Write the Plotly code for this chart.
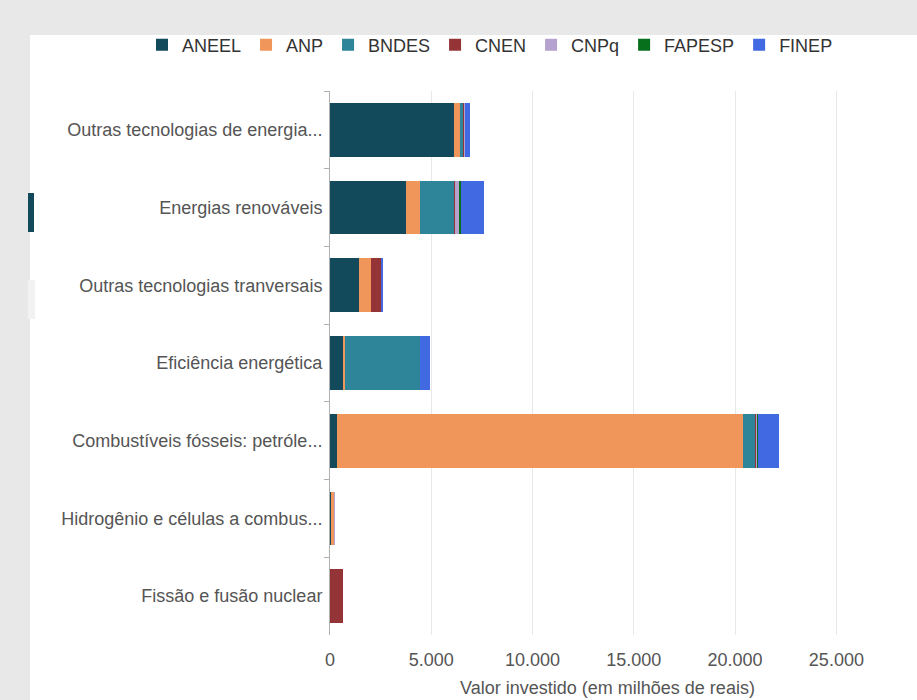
import plotly.graph_objects as go

categories = [
    "Outras tecnologias de energia...",
    "Energias renováveis",
    "Outras tecnologias tranversais",
    "Eficiência energética",
    "Combustíveis fósseis: petróle...",
    "Hidrogênio e células a combus...",
    "Fissão e fusão nuclear",
]
series_names = ["ANEEL", "ANP", "BNDES", "CNEN", "CNPq", "FAPESP", "FINEP"]
aneel = [6100, 3760, 1440, 620, 350, 40, 0]
anp = [330, 700, 590, 100, 20050, 180, 0]
bndes = [180, 1680, 0, 3700, 600, 0, 0]
cnen = [20, 40, 500, 0, 60, 0, 640]
cnpq = [40, 200, 20, 0, 40, 10, 0]
fapesp = [10, 100, 0, 0, 10, 0, 0]
finep = [250, 1100, 30, 520, 1040, 0, 0]
colors = ["#124a5c", "#f0965a", "#2e8499", "#943436", "#b6a2cf", "#07701c", "#4169e1"]
xticks = [0, 5000, 10000, 15000, 20000, 25000]

values = [aneel, anp, bndes, cnen, cnpq, fapesp, finep]

fig = go.Figure()
for name, vals, col in zip(series_names, values, colors):
    fig.add_trace(go.Bar(
        y=categories, x=vals, name=name, orientation="h",
        marker=dict(color=col, line=dict(width=0)),
    ))

L, R, T, B = 330, 32, 91, 65
W, H = 917, 700
pw, ph = W - L - R, H - T - B

def px(x):
    return (x - L) / pw

def py(y):
    return (H - B - y) / ph

FS = 18
fig.update_layout(
    width=W, height=H,
    barmode="stack", bargap=0.31,
    separators=",.",
    paper_bgcolor="#e8e8e8",
    plot_bgcolor="rgba(0,0,0,0)",
    margin=dict(l=L, r=R, t=T, b=B, pad=0, autoexpand=False),
    font=dict(family="Liberation Sans, Arial, sans-serif", color="#555555", size=FS),
    legend=dict(
        orientation="h", x=px(142), xanchor="left", y=py(45), yanchor="middle",
        font=dict(size=FS, color="#333333"), bgcolor="rgba(0,0,0,0)",
        traceorder="normal", itemwidth=30,
    ),
    xaxis=dict(
        range=[0, 27400], tickvals=xticks, tickformat=",d", automargin=False,
        showgrid=True, gridcolor="#e8e8e8", gridwidth=1, zeroline=False,
        showline=False, ticks="", ticklabelstandoff=12,
        tickfont=dict(size=FS, color="#555555"),
        title=dict(text="Valor investido (em milhões de reais)", font=dict(size=FS, color="#555555"), standoff=12),
    ),
    yaxis=dict(
        autorange="reversed", showline=True, linecolor="#b0b0b0", linewidth=1,
        ticks="outside", tickson="boundaries", ticklen=5, tickcolor="#b0b0b0",
        showgrid=False, automargin=False, ticklabelstandoff=3,
        tickfont=dict(size=FS, color="#555555"),
    ),
    shapes=[
        dict(type="rect", xref="paper", yref="paper", x0=px(30), x1=px(917), y0=py(700), y1=py(35),
             fillcolor="white", line=dict(width=0), layer="below"),
        dict(type="rect", xref="paper", yref="paper", x0=px(28), x1=px(34), y0=py(232), y1=py(193),
             fillcolor="#124a5c", line=dict(width=0), layer="below"),
        dict(type="rect", xref="paper", yref="paper", x0=px(28), x1=px(35), y0=py(319), y1=py(280),
             fillcolor="#f2f2f2", line=dict(width=0), layer="below"),
    ],
)

fig.write_html(
    "out.html",
    config={"displayModeBar": False},
    post_script="document.body.style.margin='0';document.body.style.background='#e8e8e8';",
)
